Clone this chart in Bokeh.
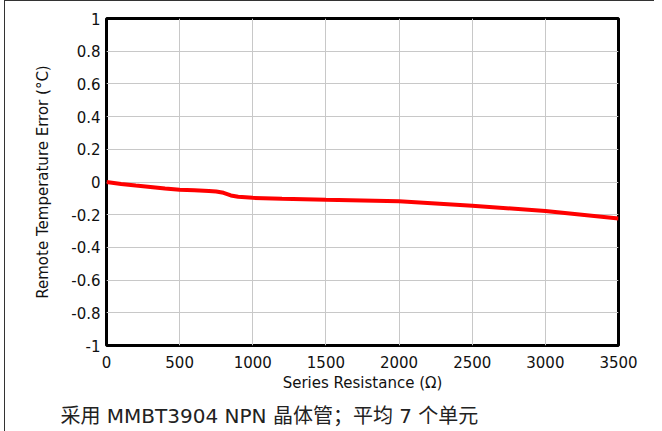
from bokeh.plotting import figure
from bokeh.models import ColumnDataSource, FixedTicker, Title, Range1d
from bokeh.embed import file_html
from bokeh.resources import INLINE

resistance = [0, 100, 200, 300, 400, 500, 600, 700, 750, 800, 850, 900, 1000,
              1200, 1500, 2000, 2500, 3000, 3500]
error = [0.0, -0.012, -0.022, -0.030, -0.040, -0.047, -0.051, -0.055, -0.058,
         -0.066, -0.082, -0.090, -0.097, -0.102, -0.108, -0.117, -0.145,
         -0.178, -0.223]
x_ticks = [0, 500, 1000, 1500, 2000, 2500, 3000, 3500]
y_ticks = [-1, -0.8, -0.6, -0.4, -0.2, 0, 0.2, 0.4, 0.6, 0.8, 1]
y_tick_labels = {-1: "-1", -0.8: "-0.8", -0.6: "-0.6", -0.4: "-0.4", -0.2: "-0.2",
                 0: "0", 0.2: "0.2", 0.4: "0.4", 0.6: "0.6", 0.8: "0.8", 1: "1"}
x_label = "Series Resistance (Ω)"
y_label = "Remote Temperature Error (°C)"
caption = "采用 MMBT3904 NPN 晶体管；平均 7 个单元"

FONT = "DejaVu Sans"

p = figure(output_backend="svg", toolbar_location=None,
           frame_width=512, frame_height=327,
           min_border_left=101, min_border_right=36,
           min_border_top=17, min_border_bottom=4,
           x_range=Range1d(0, 3500), y_range=Range1d(-1, 1))
p.styles = {"position": "relative", "left": "4px", "top": "0px",
            "border-left": "1px solid #333", "border-top": "1px solid #333"}

src = ColumnDataSource(dict(x=resistance, y=error))
p.line("x", "y", source=src, line_color="#ff0000", line_width=4)

p.outline_line_color = "black"
p.outline_line_width = 3

for ax in (p.xaxis[0], p.yaxis[0]):
    ax.axis_line_color = None
    ax.major_tick_line_color = None
    ax.minor_tick_line_color = None
    ax.major_tick_out = 0
    ax.major_tick_in = 0
    ax.major_label_text_font = FONT
    ax.major_label_text_font_size = "15px"
    ax.major_label_text_color = "#111111"
    ax.axis_label_text_font = FONT
    ax.axis_label_text_font_size = "15px"
    ax.axis_label_text_font_style = "normal"
    ax.axis_label_text_color = "#111111"

p.xaxis.ticker = FixedTicker(ticks=x_ticks)
p.yaxis.ticker = FixedTicker(ticks=y_ticks)
p.yaxis.major_label_overrides = y_tick_labels
p.xaxis.axis_label = x_label
p.yaxis.axis_label = y_label
p.xaxis.major_label_standoff = 10
p.xaxis.axis_label_standoff = 3
p.yaxis.major_label_standoff = 6
p.yaxis.axis_label_standoff = 16

p.xgrid.ticker = FixedTicker(ticks=x_ticks)
p.ygrid.ticker = FixedTicker(ticks=y_ticks)
p.xgrid.grid_line_color = "#c8c8c8"
p.ygrid.grid_line_color = "#c8c8c8"
p.xgrid.grid_line_width = 1
p.ygrid.grid_line_width = 1

cap = Title(text=caption, align="left", offset=-46, standoff=14,
            text_font="DejaVu Sans, Noto Sans CJK SC",
            text_font_size="20px", text_font_style="normal",
            text_color="#222222")
p.add_layout(cap, "below")

open("out.html", "w").write(file_html(p, INLINE))
